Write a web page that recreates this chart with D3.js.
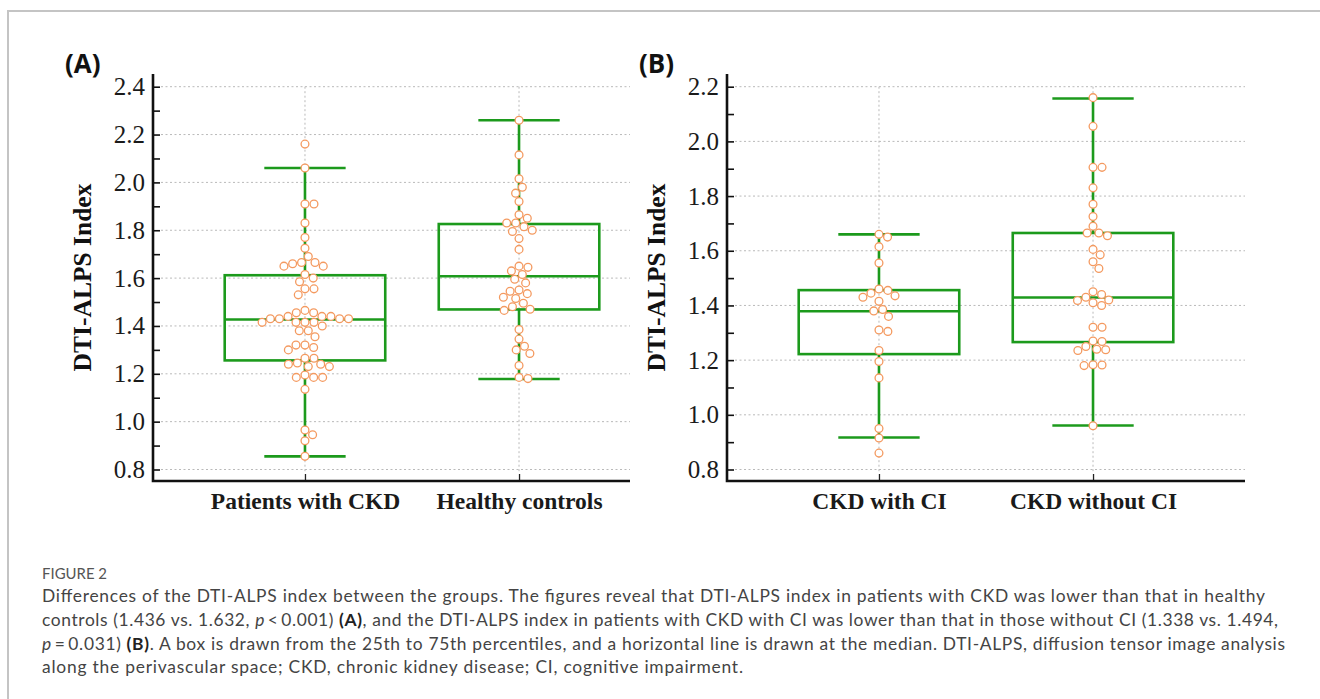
<!DOCTYPE html>
<html lang="en">
<head>
  <meta charset="UTF-8" />
  <title>DTI-ALPS index between groups</title>
  <script src="https://d3js.org/d3.v7.min.js"></script>
  <style>
    body { margin: 0; background: #fff; }
    svg { display: block; }
    .tick text { font-family: "Liberation Serif", "Times New Roman", serif; fill: #1a1a1a; }
  </style>
</head>
<body>
<script>
  // ---- data ----
  const groupsA = ["Patients with CKD", "Healthy controls"];
  const groupsB = ["CKD with CI", "CKD without CI"];

  const ckdValues = [2.16, 2.06, 1.91, 1.91, 1.83, 1.77, 1.725, 1.69, 1.665, 1.665, 1.66, 1.65, 1.65,
    1.615, 1.60, 1.585, 1.555, 1.555, 1.53, 1.465, 1.455, 1.455, 1.44, 1.44, 1.44, 1.43, 1.43, 1.43,
    1.43, 1.415, 1.415, 1.415, 1.415, 1.40, 1.38, 1.38, 1.355, 1.32, 1.32, 1.31, 1.30, 1.265, 1.265,
    1.245, 1.24, 1.24, 1.23, 1.23, 1.195, 1.185, 1.185, 1.185, 1.135, 0.965, 0.945, 0.92, 0.855];
  const controlValues = [2.26, 2.115, 2.015, 1.98, 1.955, 1.92, 1.865, 1.85, 1.83, 1.83, 1.815, 1.80,
    1.795, 1.765, 1.72, 1.65, 1.645, 1.63, 1.615, 1.595, 1.58, 1.55, 1.545, 1.535, 1.52, 1.515, 1.495,
    1.48, 1.47, 1.465, 1.385, 1.345, 1.315, 1.30, 1.285, 1.235, 1.185, 1.18];
  const ciValues = [1.66, 1.65, 1.615, 1.555, 1.46, 1.455, 1.445, 1.435, 1.43, 1.415, 1.385, 1.38,
    1.36, 1.31, 1.305, 1.235, 1.195, 1.135, 0.95, 0.915, 0.86];
  const noCiValues = [2.16, 2.055, 1.905, 1.905, 1.83, 1.77, 1.725, 1.69, 1.665, 1.665, 1.655, 1.605,
    1.585, 1.56, 1.535, 1.45, 1.44, 1.43, 1.42, 1.418, 1.41, 1.40, 1.32, 1.32, 1.27, 1.268, 1.25,
    1.24, 1.238, 1.235, 1.183, 1.182, 1.18, 0.96];

  // [lower whisker, 25th, median, 75th, upper whisker]
  const ckdBox = [0.855, 1.256, 1.427, 1.612, 2.06];
  const controlBox = [1.178, 1.469, 1.608, 1.826, 2.26];
  const ciBox = [0.917, 1.222, 1.379, 1.456, 1.66];
  const noCiBox = [0.961, 1.266, 1.429, 1.665, 2.157];

  const ticksA = [0.8, 1.0, 1.2, 1.4, 1.6, 1.8, 2.0, 2.2, 2.4];
  const ticksB = [0.8, 1.0, 1.2, 1.4, 1.6, 1.8, 2.0, 2.2];
  const minorA = d3.range(0.9, 2.4, 0.2).map(v => +v.toFixed(1));
  const minorB = d3.range(0.9, 2.2, 0.2).map(v => +v.toFixed(1));

  const yTitle = "DTI-ALPS Index";
  const figureLabel = "FIGURE 2";
  // caption lines: [text, style] with style "" | "i" | "b"
  const captionLines = [
    [["Differences of the DTI-ALPS index between the groups. The figures reveal that DTI-ALPS index in patients with CKD was lower than that in healthy", ""]],
    [["controls (1.436 vs. 1.632, ", ""], ["p", "i"], ["\u2009<\u20090.001) ", ""], ["(A)", "b"],
     [", and the DTI-ALPS index in patients with CKD with CI was lower than that in those without CI (1.338 vs. 1.494,", ""]],
    [["p", "i"], ["\u2009=\u20090.031) ", ""], ["(B)", "b"],
     [". A box is drawn from the 25th to 75th percentiles, and a horizontal line is drawn at the median. DTI-ALPS, diffusion tensor image analysis", ""]],
    [["along the perivascular space; CKD, chronic kidney disease; CI, cognitive impairment.", ""]]
  ];
  const captionEnds = [1265, 1278, 1285, 743];

  // ---- canvas ----
  const width = 1320, height = 699;
  const boxColor = "#1c9a1c";
  const dotColor = "#f49a60";
  const gridColor = "#b9b9b9";

  const svg = d3.select("body").append("svg")
                .attr("width", width)
                .attr("height", height);

  // page frame
  svg.append("path")
     .attr("d", `M8,${height} L8,11 L${width},11`)
     .attr("fill", "none")
     .attr("stroke", "#c4c4c4")
     .attr("stroke-width", 2);

  const plotTop = 74, plotBottom = 481;
  const yRangeBottom = 469.5, yRangeTop = 86.7;

  // simple beeswarm: each dot gets the offset closest to the centre that does not overlap
  function swarm(values, y, diam) {
    const placed = [];
    values.map(v => ({ v: v, y: y(v) }))
          .sort((a, b) => a.y - b.y)
          .forEach(p => {
            const cands = [0];
            placed.forEach(q => {
              const dy = Math.abs(q.y - p.y);
              if (dy < diam) {
                const dx = Math.sqrt(diam * diam - dy * dy);
                cands.push(q.x + dx, q.x - dx);
              }
            });
            cands.sort((a, b) => Math.abs(a) - Math.abs(b) || b - a);
            p.x = cands.find(c => placed.every(q => (q.x - c) ** 2 + (q.y - p.y) ** 2 >= diam * diam - 0.01));
            placed.push(p);
          });
    return placed;
  }

  function drawPanel(cfg) {
    const g = svg.append("g");

    const yScale = d3.scaleLinear()
                     .domain([0.8, cfg.ticks[cfg.ticks.length - 1]])
                     .range([yRangeBottom, yRangeTop]);

    const xScale = d3.scalePoint()
                     .domain(cfg.groups)
                     .range([cfg.left, cfg.left + 518])
                     .padding(0.71);
    const step = xScale.step();

    // gridlines
    g.append("g").selectAll("line")
     .data(cfg.ticks)
     .join("line")
     .attr("x1", cfg.left + 8)
     .attr("x2", cfg.right)
     .attr("y1", d => yScale(d))
     .attr("y2", d => yScale(d))
     .attr("stroke", gridColor)
     .attr("stroke-width", 1)
     .attr("stroke-dasharray", "2,2.5");

    g.append("g").selectAll("line")
     .data(cfg.groups)
     .join("line")
     .attr("x1", d => xScale(d))
     .attr("x2", d => xScale(d))
     .attr("y1", yRangeTop)
     .attr("y2", plotBottom - 8)
     .attr("stroke", gridColor)
     .attr("stroke-width", 1)
     .attr("stroke-dasharray", "2,2.5");

    // boxes
    const boxes = g.append("g")
                   .selectAll("g")
                   .data(cfg.groups.map((name, i) => ({ name: name, s: cfg.boxes[i] })))
                   .join("g")
                   .attr("stroke", boxColor)
                   .attr("stroke-width", 2.6)
                   .attr("fill", "none");

    boxes.append("rect")
         .attr("x", d => xScale(d.name) - step * 0.375)
         .attr("width", step * 0.75)
         .attr("y", d => yScale(d.s[3]))
         .attr("height", d => yScale(d.s[1]) - yScale(d.s[3]));
    boxes.append("line")
         .attr("x1", d => xScale(d.name) - step * 0.375)
         .attr("x2", d => xScale(d.name) + step * 0.375)
         .attr("y1", d => yScale(d.s[2]))
         .attr("y2", d => yScale(d.s[2]));
    boxes.append("line")
         .attr("x1", d => xScale(d.name))
         .attr("x2", d => xScale(d.name))
         .attr("y1", d => yScale(d.s[4]))
         .attr("y2", d => yScale(d.s[3]));
    boxes.append("line")
         .attr("x1", d => xScale(d.name))
         .attr("x2", d => xScale(d.name))
         .attr("y1", d => yScale(d.s[1]))
         .attr("y2", d => yScale(d.s[0]));
    [0, 4].forEach(k => {
      boxes.append("line")
           .attr("x1", d => xScale(d.name) - step * 0.19)
           .attr("x2", d => xScale(d.name) + step * 0.19)
           .attr("y1", d => yScale(d.s[k]))
           .attr("y2", d => yScale(d.s[k]));
    });

    // dots
    cfg.groups.forEach((name, i) => {
      g.append("g").selectAll("circle")
       .data(swarm(cfg.values[i], yScale, 9))
       .join("circle")
       .attr("cx", d => xScale(name) + d.x)
       .attr("cy", d => d.y)
       .attr("r", 3.9)
       .attr("fill", "#fff")
       .attr("stroke", dotColor)
       .attr("stroke-width", 1.3);
    });

    // y axis
    const yAxis = g.append("g")
                   .attr("transform", `translate(${cfg.left},0)`)
                   .call(d3.axisLeft(yScale).tickValues(cfg.ticks).tickSize(-7).tickPadding(8)
                           .tickFormat(d3.format(".1f")));
    yAxis.append("g")
         .call(d3.axisLeft(yScale).tickValues(cfg.minor).tickSize(-7).tickFormat(""));
    yAxis.selectAll(".domain").remove();
    yAxis.selectAll(".tick line").attr("stroke", "#111").attr("stroke-width", 1.6);
    yAxis.selectAll(".tick text").attr("font-size", 25).attr("font-family", null);

    // x axis
    const xAxis = g.append("g")
                   .attr("transform", `translate(0,${plotBottom})`)
                   .call(d3.axisBottom(xScale).tickSize(-7).tickPadding(11));
    xAxis.selectAll(".domain").remove();
    xAxis.selectAll(".tick line").attr("stroke", "#222").attr("stroke-width", 1.3);
    xAxis.selectAll(".tick text")
         .attr("font-size", 23.5)
         .attr("font-weight", "bold")
         .attr("font-family", null);

    // axis lines
    g.append("path")
     .attr("d", `M${cfg.left},${plotTop} L${cfg.left},${plotBottom} L${cfg.right},${plotBottom}`)
     .attr("fill", "none")
     .attr("stroke", "#111")
     .attr("stroke-width", 2.6);

    // axis title
    g.append("text")
     .attr("transform", `translate(${cfg.left - 71},${(plotTop + plotBottom) / 2}) rotate(-90)`)
     .attr("text-anchor", "middle")
     .attr("dy", "0.35em")
     .attr("font-family", "Liberation Serif, Times New Roman, serif")
     .attr("font-weight", "bold")
     .attr("font-size", 25.5)
     .attr("fill", "#111")
     .text(yTitle);

    // panel label
    g.append("text")
     .attr("x", cfg.left - 88)
     .attr("y", 73)
     .attr("font-family", "Open Sans, sans-serif")
     .attr("font-weight", "bold")
     .attr("font-size", 26)
     .attr("fill", "#111")
     .text(cfg.label);
  }

  drawPanel({ label: "(A)", left: 153, right: 630, groups: groupsA,
              values: [ckdValues, controlValues], boxes: [ckdBox, controlBox],
              ticks: ticksA, minor: minorA });
  drawPanel({ label: "(B)", left: 727, right: 1245, groups: groupsB,
              values: [ciValues, noCiValues], boxes: [ciBox, noCiBox],
              ticks: ticksB, minor: minorB });

  // ---- caption ----
  svg.append("text")
     .attr("x", 42)
     .attr("y", 579)
     .attr("font-family", "Lato, sans-serif")
     .attr("font-size", 15)
     .attr("fill", "#555")
     .attr("textLength", 65)
     .attr("lengthAdjust", "spacingAndGlyphs")
     .text(figureLabel);

  captionLines.forEach((segs, i) => {
    const t = svg.append("text")
                 .attr("x", 42)
                 .attr("y", 602 + i * 23.8)
                 .attr("font-family", "Lato, sans-serif")
                 .attr("font-size", 17.4)
                 .attr("fill", "#444")
                 .attr("textLength", captionEnds[i] - 42)
                 .attr("lengthAdjust", "spacing");
    segs.forEach(s => {
      t.append("tspan")
       .attr("font-style", s[1] === "i" ? "italic" : null)
       .attr("font-weight", s[1] === "b" ? "bold" : null)
       .attr("fill", s[1] === "b" ? "#222" : null)
       .text(s[0]);
    });
  });
</script>
</body>
</html>
